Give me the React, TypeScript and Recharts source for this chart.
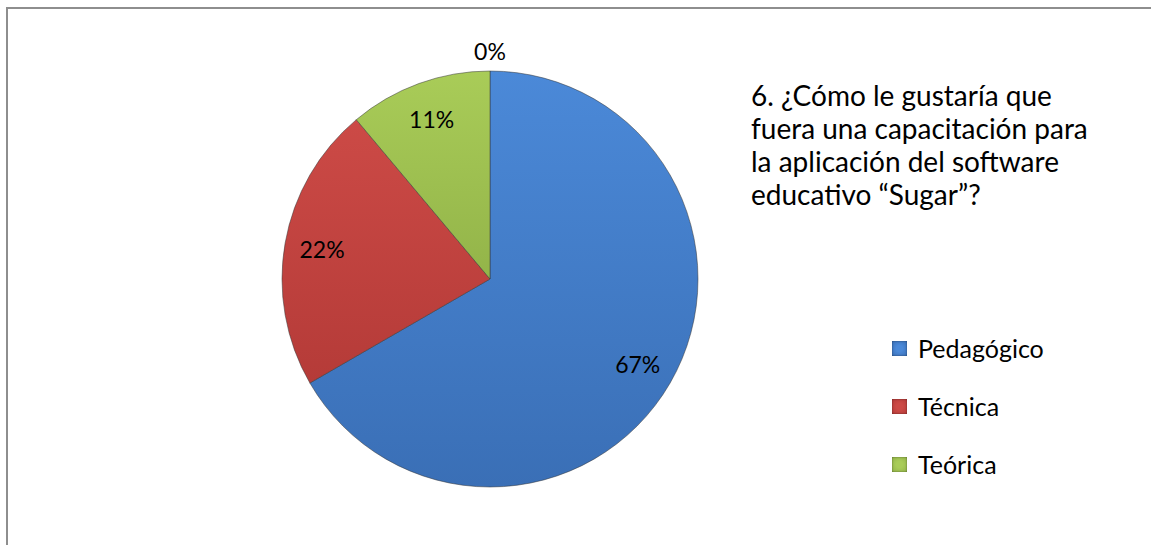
import React from "react";
import { Cell, Pie, PieChart } from "recharts";

const categories = ["Pedagógico", "Técnica", "Teórica", ""];
const counts = [6, 2, 1, 0];
const colors = ["#4580cb", "#c4433f", "#a2c552"];
const lightColors = ["#4b89d8", "#cc4a46", "#a9cc58"];
const darkColors = ["#3a6fb6", "#b53b38", "#93b449"];
const legendItems = ["Pedagógico", "Técnica", "Teórica"];
const titleLines = [
  "6. ¿Cómo le gustaría que",
  "fuera una capacitación para",
  "la aplicación del software",
  "educativo “Sugar”?",
];

const data = categories.map((name, i) => ({ name, value: counts[i] }));
const FONT = "Lato, 'Open Sans', sans-serif";
const RAD = Math.PI / 180;

function renderLabel(props: any) {
  const { cx, cy, midAngle, outerRadius, percent, value } = props;
  const r = value === 0 ? outerRadius + 20 : outerRadius * 0.82;
  const x = cx + r * Math.cos(-midAngle * RAD);
  const y = cy + r * Math.sin(-midAngle * RAD);
  return (
    <text
      x={x}
      y={y}
      fill="#000"
      textAnchor="middle"
      dominantBaseline="central"
      fontSize={23}
      fontFamily={FONT}
    >
      {`${Math.round(percent * 100)}%`}
    </text>
  );
}

function LegendBox() {
  return (
    <div
      style={{
        position: "absolute",
        left: 884,
        top: 310,
        fontFamily: FONT,
        fontSize: 25,
        color: "#000",
      }}
    >
      {legendItems.map((name, i) => (
        <div
          key={name}
          style={{ display: "flex", alignItems: "center", height: 58 }}
        >
          <span
            style={{
              display: "inline-block",
              width: 15,
              height: 15,
              marginRight: 11,
              background: `radial-gradient(circle, ${lightColors[i]} 30%, ${darkColors[i]} 100%)`,
              boxShadow: "inset 0 0 2px rgba(0,0,0,0.5)",
            }}
          />
          {name}
        </div>
      ))}
    </div>
  );
}

export default function App() {
  return (
    <div
      style={{
        position: "absolute",
        left: 6,
        top: 7,
        width: 1170,
        height: 560,
        border: "2px solid #8e8e8e",
        boxSizing: "border-box",
        background: "#fff",
      }}
    >
      <PieChart width={1150} height={540}>
        <defs>
          {colors.map((c, i) => (
            <linearGradient key={c} id={`slice${i}`} x1="0" y1="0" x2="0" y2="1">
              <stop offset="0%" stopColor={lightColors[i]} />
              <stop offset="100%" stopColor={darkColors[i]} />
            </linearGradient>
          ))}
        </defs>
        <Pie
          data={data}
          dataKey="value"
          nameKey="name"
          cx={477}
          cy={265}
          outerRadius={208}
          startAngle={90}
          endAngle={-270}
          stroke="#333"
          strokeOpacity={0.5}
          strokeWidth={1}
          label={renderLabel}
          labelLine={false}
          isAnimationActive={false}
        >
          {data.map((d, i) => (
            <Cell key={i} fill={`url(#slice${i % colors.length})`} />
          ))}
        </Pie>
      </PieChart>
      <div
        style={{
          position: "absolute",
          left: 743,
          top: 70,
          fontFamily: FONT,
          fontSize: 28,
          lineHeight: "33px",
          color: "#000",
          whiteSpace: "nowrap",
        }}
      >
        {titleLines.map((l) => (
          <div key={l}>{l}</div>
        ))}
      </div>
      <LegendBox />
    </div>
  );
}
